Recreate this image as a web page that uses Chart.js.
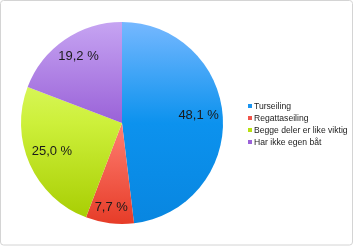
<!DOCTYPE html>
<html>
<head>
<meta charset="utf-8">
<script src="https://cdn.jsdelivr.net/npm/chart.js@4"></script>
<style>
  html, body { margin: 0; padding: 0; background: #fff; }
  #wrap { width: 353px; height: 246px; position: relative; }
</style>
</head>
<body>
<div id="wrap"><canvas id="pie" width="353" height="246"></canvas></div>
<script>
const Categories = ['Turseiling', 'Regattaseiling', 'Begge deler er like viktig', 'Har ikke egen båt'];
const Shares = [48.1, 7.7, 25.0, 19.2];
const ShareLabels = ['48,1 %', '7,7 %', '25,0 %', '19,2 %'];
// top / middle / bottom colour of each slice's vertical gradient
const topColors = ['#76b8ff', '#ffb4aa', '#e8ff88', '#c6a4f2'];
const midColors = ['#0c92ee', '#ff7f72', '#cdf03a', '#9a62d8'];
const bottomColors = ['#0886e0', '#e63c28', '#a6cc00', '#8448c8'];
const legendColors = ['#1a94f0', '#f0544a', '#b8e010', '#9a62d8'];

var ctx = document.getElementById('pie').getContext('2d');

function sliceGradient(context) {
    const chart = context.chart;
    const area = chart.chartArea;
    const i = context.dataIndex;
    if (!area) return bottomColors[i];
    const g = chart.ctx.createLinearGradient(0, area.top, 0, area.bottom);
    g.addColorStop(0, topColors[i]);
    g.addColorStop(0.5, midColors[i]);
    g.addColorStop(1, bottomColors[i]);
    return g;
}

const frame = {
    id: 'frame',
    beforeDraw(chart) {
        const c = chart.ctx;
        c.save();
        c.fillStyle = '#fff';
        c.fillRect(0, 0, chart.width, chart.height);
        c.strokeStyle = '#d4d4d4';
        c.lineWidth = 1;
        c.beginPath();
        c.roundRect(0.5, 0.5, chart.width - 1, chart.height - 1.5, 3);
        c.stroke();
        c.restore();
    }
};

const sliceLabels = {
    id: 'sliceLabels',
    afterDatasetsDraw(chart) {
        const c = chart.ctx;
        const meta = chart.getDatasetMeta(0);
        c.save();
        c.font = '13px "Liberation Sans", Arial, sans-serif';
        c.fillStyle = '#1a1a1a';
        c.textAlign = 'center';
        c.textBaseline = 'middle';
        meta.data.forEach((arc, i) => {
            const p = arc.getProps(['x', 'y', 'startAngle', 'endAngle', 'outerRadius'], true);
            const mid = (p.startAngle + p.endAngle) / 2;
            const f = Shares[i] < 10 ? 0.87 : 0.76;
            c.fillText(ShareLabels[i], p.x + Math.cos(mid) * p.outerRadius * f, p.y + Math.sin(mid) * p.outerRadius * f - 3);
        });
        c.restore();
    }
};

const sideLegend = {
    id: 'sideLegend',
    afterDraw(chart) {
        const c = chart.ctx;
        c.save();
        c.font = '8.6px "Liberation Sans", Arial, sans-serif';
        c.textBaseline = 'middle';
        chart.data.labels.forEach((lbl, i) => {
            const y = 106 + i * 12;
            c.fillStyle = legendColors[i];
            c.fillRect(248, y - 2, 4, 4);
            c.fillStyle = '#222';
            c.fillText(lbl, 254, y + 0.5);
        });
        c.restore();
    }
};

new Chart(ctx, {
    type: 'pie',
    data: {
        labels: Categories,
        datasets: [{
            data: Shares,
            backgroundColor: sliceGradient,
            borderWidth: 0
        }]
    },
    options: {
        responsive: false,
        animation: false,
        layout: { padding: { left: 21, top: 22, right: 130, bottom: 22 } },
        plugins: {
            legend: { display: false },
            tooltip: { enabled: false }
        }
    },
    plugins: [frame, sliceLabels, sideLegend]
});
</script>
</body>
</html>
